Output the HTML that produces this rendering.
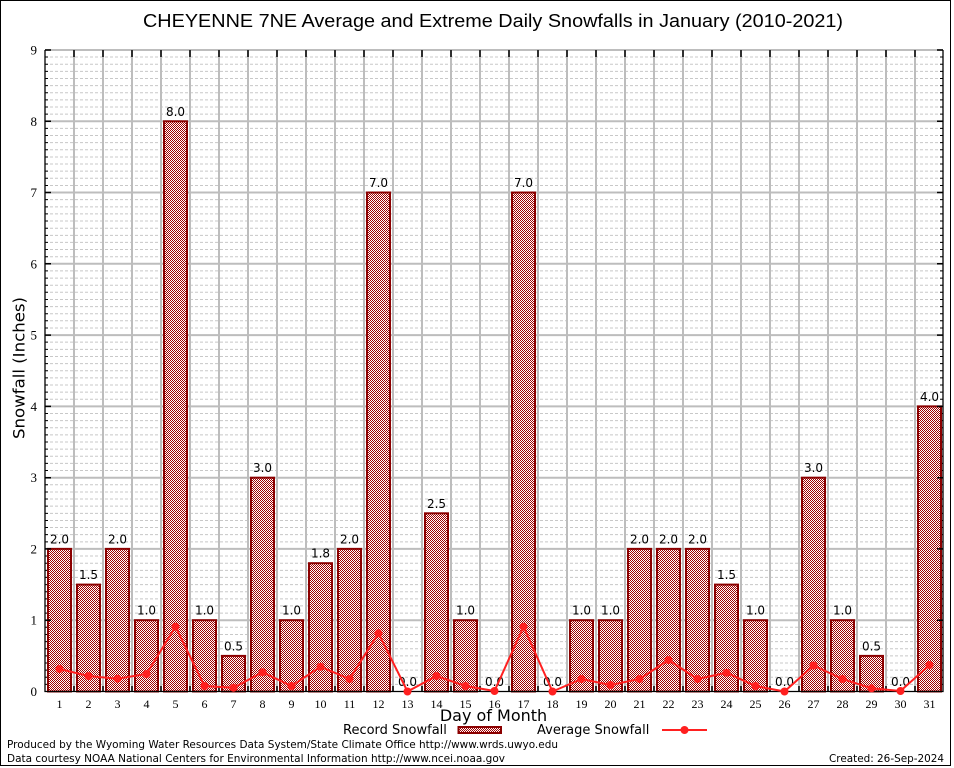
<!DOCTYPE html>
<html><head><meta charset="utf-8"><style>
html,body{margin:0;padding:0;background:#fff;}
svg{display:block;}
</style></head><body>
<svg width="954" height="768" viewBox="0 0 954 768" xmlns="http://www.w3.org/2000/svg">
<defs>
<pattern id="chk" width="2" height="2" patternUnits="userSpaceOnUse">
<rect width="2" height="2" fill="#ffffff"/>
<rect width="1" height="1" fill="#a00000"/>
<rect x="1" y="1" width="1" height="1" fill="#a00000"/>
</pattern>
<g id="band">
<path d="M45 684.4H943M45 677.2H943M45 670.1H943M45 663.0H943M45 655.9H943M45 648.7H943M45 641.6H943M45 634.5H943M45 627.3H943" stroke="#c8c8c8" stroke-width="1" stroke-dasharray="3,2" fill="none"/>
<path d="M45 684.4h3M45 677.2h3M45 670.1h3M45 663.0h3M45 655.9h3M45 648.7h3M45 641.6h3M45 634.5h3M45 627.3h3M943 684.4h-3M943 677.2h-3M943 670.1h-3M943 663.0h-3M943 655.9h-3M943 648.7h-3M943 641.6h-3M943 634.5h-3M943 627.3h-3" stroke="#000" stroke-width="1" fill="none"/>
</g>
</defs>
<rect x="0" y="0" width="954" height="768" fill="#fff"/>
<rect x="0.5" y="0.5" width="950" height="765" fill="none" stroke="#000" stroke-width="1"/>

<text x="493" y="27" text-anchor="middle" font-family="Liberation Sans, sans-serif" font-size="18" textLength="700" lengthAdjust="spacingAndGlyphs" fill="#000">CHEYENNE 7NE Average and Extreme Daily Snowfalls in January (2010-2021)</text>

<use href="#band"/>
<use href="#band" transform="translate(0,-71.28)"/>
<use href="#band" transform="translate(0,-142.56)"/>
<use href="#band" transform="translate(0,-213.84)"/>
<use href="#band" transform="translate(0,-285.12)"/>
<use href="#band" transform="translate(0,-356.4)"/>
<use href="#band" transform="translate(0,-427.68)"/>
<use href="#band" transform="translate(0,-498.96)"/>
<use href="#band" transform="translate(0,-570.24)"/>

<path d="M45 620.2H943M45 548.9H943M45 477.7H943M45 406.4H943M45 335.1H943M45 263.8H943M45 192.5H943M45 121.3H943M45 50H943" stroke="#bdbdbd" stroke-width="2" fill="none"/>
<path d="M74 50V691M103 50V691M132 50V691M161 50V691M190 50V691M219 50V691M248 50V691M277 50V691M306 50V691M335 50V691M364 50V691M393 50V691M422 50V691M451 50V691M480 50V691M509 50V691M538 50V691M567 50V691M596 50V691M625 50V691M654 50V691M683 50V691M712 50V691M741 50V691M770 50V691M799 50V691M828 50V691M857 50V691M886 50V691M915 50V691" stroke="#bdbdbd" stroke-width="2" fill="none"/>

<path d="M74 50v7M103 50v7M132 50v7M161 50v7M190 50v7M219 50v7M248 50v7M277 50v7M306 50v7M335 50v7M364 50v7M393 50v7M422 50v7M451 50v7M480 50v7M509 50v7M538 50v7M567 50v7M596 50v7M625 50v7M654 50v7M683 50v7M712 50v7M741 50v7M770 50v7M799 50v7M828 50v7M857 50v7M886 50v7M915 50v7" stroke="#000" stroke-width="1.5" fill="none"/>
<path d="M74 691v-5M103 691v-5M132 691v-5M161 691v-5M190 691v-5M219 691v-5M248 691v-5M277 691v-5M306 691v-5M335 691v-5M364 691v-5M393 691v-5M422 691v-5M451 691v-5M480 691v-5M509 691v-5M538 691v-5M567 691v-5M596 691v-5M625 691v-5M654 691v-5M683 691v-5M712 691v-5M741 691v-5M770 691v-5M799 691v-5M828 691v-5M857 691v-5M886 691v-5M915 691v-5" stroke="#000" stroke-width="1.5" fill="none"/>

<g fill="url(#chk)" stroke="#8b0000" stroke-width="2">
<rect x="48" y="548.9" width="23" height="142.6"/>
<rect x="77" y="584.6" width="23" height="106.9"/>
<rect x="106" y="548.9" width="23" height="142.6"/>
<rect x="135" y="620.2" width="23" height="71.3"/>
<rect x="164" y="121.3" width="23" height="570.2"/>
<rect x="193" y="620.2" width="23" height="71.3"/>
<rect x="222" y="655.9" width="23" height="35.6"/>
<rect x="251" y="477.7" width="23" height="213.8"/>
<rect x="280" y="620.2" width="23" height="71.3"/>
<rect x="309" y="563.2" width="23" height="128.3"/>
<rect x="338" y="548.9" width="23" height="142.6"/>
<rect x="367" y="192.5" width="23" height="499"/>
<rect x="425" y="513.3" width="23" height="178.2"/>
<rect x="454" y="620.2" width="23" height="71.3"/>
<rect x="512" y="192.5" width="23" height="499"/>
<rect x="570" y="620.2" width="23" height="71.3"/>
<rect x="599" y="620.2" width="23" height="71.3"/>
<rect x="628" y="548.9" width="23" height="142.6"/>
<rect x="657" y="548.9" width="23" height="142.6"/>
<rect x="686" y="548.9" width="23" height="142.6"/>
<rect x="715" y="584.6" width="23" height="106.9"/>
<rect x="744" y="620.2" width="23" height="71.3"/>
<rect x="802" y="477.7" width="23" height="213.8"/>
<rect x="831" y="620.2" width="23" height="71.3"/>
<rect x="860" y="655.9" width="23" height="35.6"/>
<rect x="918" y="406.4" width="23" height="285.1"/>
</g>

<g font-family="DejaVu Sans, sans-serif" font-size="12" text-anchor="middle" fill="#000">
<text x="59.5" y="543.4">2.0</text>
<text x="88.5" y="579.1">1.5</text>
<text x="117.5" y="543.4">2.0</text>
<text x="146.5" y="614.7">1.0</text>
<text x="175.5" y="115.8">8.0</text>
<text x="204.5" y="614.7">1.0</text>
<text x="233.5" y="650.4">0.5</text>
<text x="262.5" y="472.2">3.0</text>
<text x="291.5" y="614.7">1.0</text>
<text x="320.5" y="557.7">1.8</text>
<text x="349.5" y="543.4">2.0</text>
<text x="378.5" y="187">7.0</text>
<text x="407.5" y="686">0.0</text>
<text x="436.5" y="507.8">2.5</text>
<text x="465.5" y="614.7">1.0</text>
<text x="494.5" y="686">0.0</text>
<text x="523.5" y="187">7.0</text>
<text x="552.5" y="686">0.0</text>
<text x="581.5" y="614.7">1.0</text>
<text x="610.5" y="614.7">1.0</text>
<text x="639.5" y="543.4">2.0</text>
<text x="668.5" y="543.4">2.0</text>
<text x="697.5" y="543.4">2.0</text>
<text x="726.5" y="579.1">1.5</text>
<text x="755.5" y="614.7">1.0</text>
<text x="784.5" y="686">0.0</text>
<text x="813.5" y="472.2">3.0</text>
<text x="842.5" y="614.7">1.0</text>
<text x="871.5" y="650.4">0.5</text>
<text x="900.5" y="686">0.0</text>
<text x="929.5" y="400.9">4.0</text>
</g>

<path d="M45 50V691.5H943V50" stroke="#000" stroke-width="1.3" fill="none"/>
<path d="M45 620.2h6M45 548.9h6M45 477.7h6M45 406.4h6M45 335.1h6M45 263.8h6M45 192.5h6M45 121.3h6M45 50h6M943 620.2h-6M943 548.9h-6M943 477.7h-6M943 406.4h-6M943 335.1h-6M943 263.8h-6M943 192.5h-6M943 121.3h-6M943 50h-6" stroke="#000" stroke-width="1.5" fill="none"/>

<polyline fill="none" stroke="#ff2020" stroke-width="2" points="59.5,669 88.5,676 117.5,678.7 146.5,674 175.5,626.7 204.5,686 233.5,687.7 262.5,672.3 291.5,686 320.5,666.7 349.5,679 378.5,633.3 407.5,691.5 436.5,676 465.5,686 494.5,691 523.5,626.7 552.5,691.5 581.5,679 610.5,685 639.5,679 668.5,660 697.5,679 726.5,672.7 755.5,686 784.5,691.5 813.5,665.5 842.5,679 871.5,688.3 900.5,691 929.5,665"/>
<g fill="#ff2020">
<circle cx="59.5" cy="669" r="4"/><circle cx="88.5" cy="676" r="4"/><circle cx="117.5" cy="678.7" r="4"/><circle cx="146.5" cy="674" r="4"/><circle cx="175.5" cy="626.7" r="4"/><circle cx="204.5" cy="686" r="4"/><circle cx="233.5" cy="687.7" r="4"/><circle cx="262.5" cy="672.3" r="4"/><circle cx="291.5" cy="686" r="4"/><circle cx="320.5" cy="666.7" r="4"/><circle cx="349.5" cy="679" r="4"/><circle cx="378.5" cy="633.3" r="4"/><circle cx="407.5" cy="691.5" r="4"/><circle cx="436.5" cy="676" r="4"/><circle cx="465.5" cy="686" r="4"/><circle cx="494.5" cy="691" r="4"/><circle cx="523.5" cy="626.7" r="4"/><circle cx="552.5" cy="691.5" r="4"/><circle cx="581.5" cy="679" r="4"/><circle cx="610.5" cy="685" r="4"/><circle cx="639.5" cy="679" r="4"/><circle cx="668.5" cy="660" r="4"/><circle cx="697.5" cy="679" r="4"/><circle cx="726.5" cy="672.7" r="4"/><circle cx="755.5" cy="686" r="4"/><circle cx="784.5" cy="691.5" r="4"/><circle cx="813.5" cy="665.5" r="4"/><circle cx="842.5" cy="679" r="4"/><circle cx="871.5" cy="688.3" r="4"/><circle cx="900.5" cy="691" r="4"/><circle cx="929.5" cy="665" r="4"/>
</g>

<g font-family="Liberation Serif, serif" font-size="13" text-anchor="end" fill="#000">
<text x="37" y="696">0</text>
<text x="37" y="624.7">1</text>
<text x="37" y="553.4">2</text>
<text x="37" y="482.2">3</text>
<text x="37" y="410.9">4</text>
<text x="37" y="339.6">5</text>
<text x="37" y="268.3">6</text>
<text x="37" y="197">7</text>
<text x="37" y="125.8">8</text>
<text x="37" y="54.5">9</text>
</g>

<g font-family="Liberation Serif, serif" font-size="12" text-anchor="middle" fill="#000">
<text x="59.5" y="708">1</text><text x="88.5" y="708">2</text><text x="117.5" y="708">3</text><text x="146.5" y="708">4</text><text x="175.5" y="708">5</text><text x="204.5" y="708">6</text><text x="233.5" y="708">7</text><text x="262.5" y="708">8</text><text x="291.5" y="708">9</text><text x="320.5" y="708">10</text><text x="349.5" y="708">11</text><text x="378.5" y="708">12</text><text x="407.5" y="708">13</text><text x="436.5" y="708">14</text><text x="465.5" y="708">15</text><text x="494.5" y="708">16</text><text x="523.5" y="708">17</text><text x="552.5" y="708">18</text><text x="581.5" y="708">19</text><text x="610.5" y="708">20</text><text x="639.5" y="708">21</text><text x="668.5" y="708">22</text><text x="697.5" y="708">23</text><text x="726.5" y="708">24</text><text x="755.5" y="708">25</text><text x="784.5" y="708">26</text><text x="813.5" y="708">27</text><text x="842.5" y="708">28</text><text x="871.5" y="708">29</text><text x="900.5" y="708">30</text><text x="929.5" y="708">31</text>
</g>

<text x="493.5" y="721" text-anchor="middle" font-family="DejaVu Sans, sans-serif" font-size="16" fill="#000">Day of Month</text>
<text transform="translate(24.5,368) rotate(-90)" text-anchor="middle" font-family="DejaVu Sans, sans-serif" font-size="16" textLength="142" lengthAdjust="spacingAndGlyphs" fill="#000">Snowfall (Inches)</text>

<g font-family="DejaVu Sans, sans-serif" font-size="13" fill="#000">
<text x="343" y="734">Record Snowfall</text>
<text x="537" y="734">Average Snowfall</text>
</g>
<rect x="458.5" y="727" width="42.5" height="6" fill="url(#chk)" stroke="#8b0000" stroke-width="2"/>
<line x1="662" y1="730" x2="707" y2="730" stroke="#ff2020" stroke-width="2"/>
<circle cx="684.5" cy="730" r="4" fill="#ff2020"/>

<g font-family="DejaVu Sans, sans-serif" font-size="11" fill="#000">
<text x="7" y="748" textLength="551" lengthAdjust="spacingAndGlyphs">Produced by the Wyoming Water Resources Data System/State Climate Office http://www.wrds.uwyo.edu</text>
<text x="7" y="762" textLength="498" lengthAdjust="spacingAndGlyphs">Data courtesy NOAA National Centers for Environmental Information http://www.ncei.noaa.gov</text>
<text x="829" y="762" textLength="115" lengthAdjust="spacingAndGlyphs">Created: 26-Sep-2024</text>
</g>
</svg>
</body></html>
